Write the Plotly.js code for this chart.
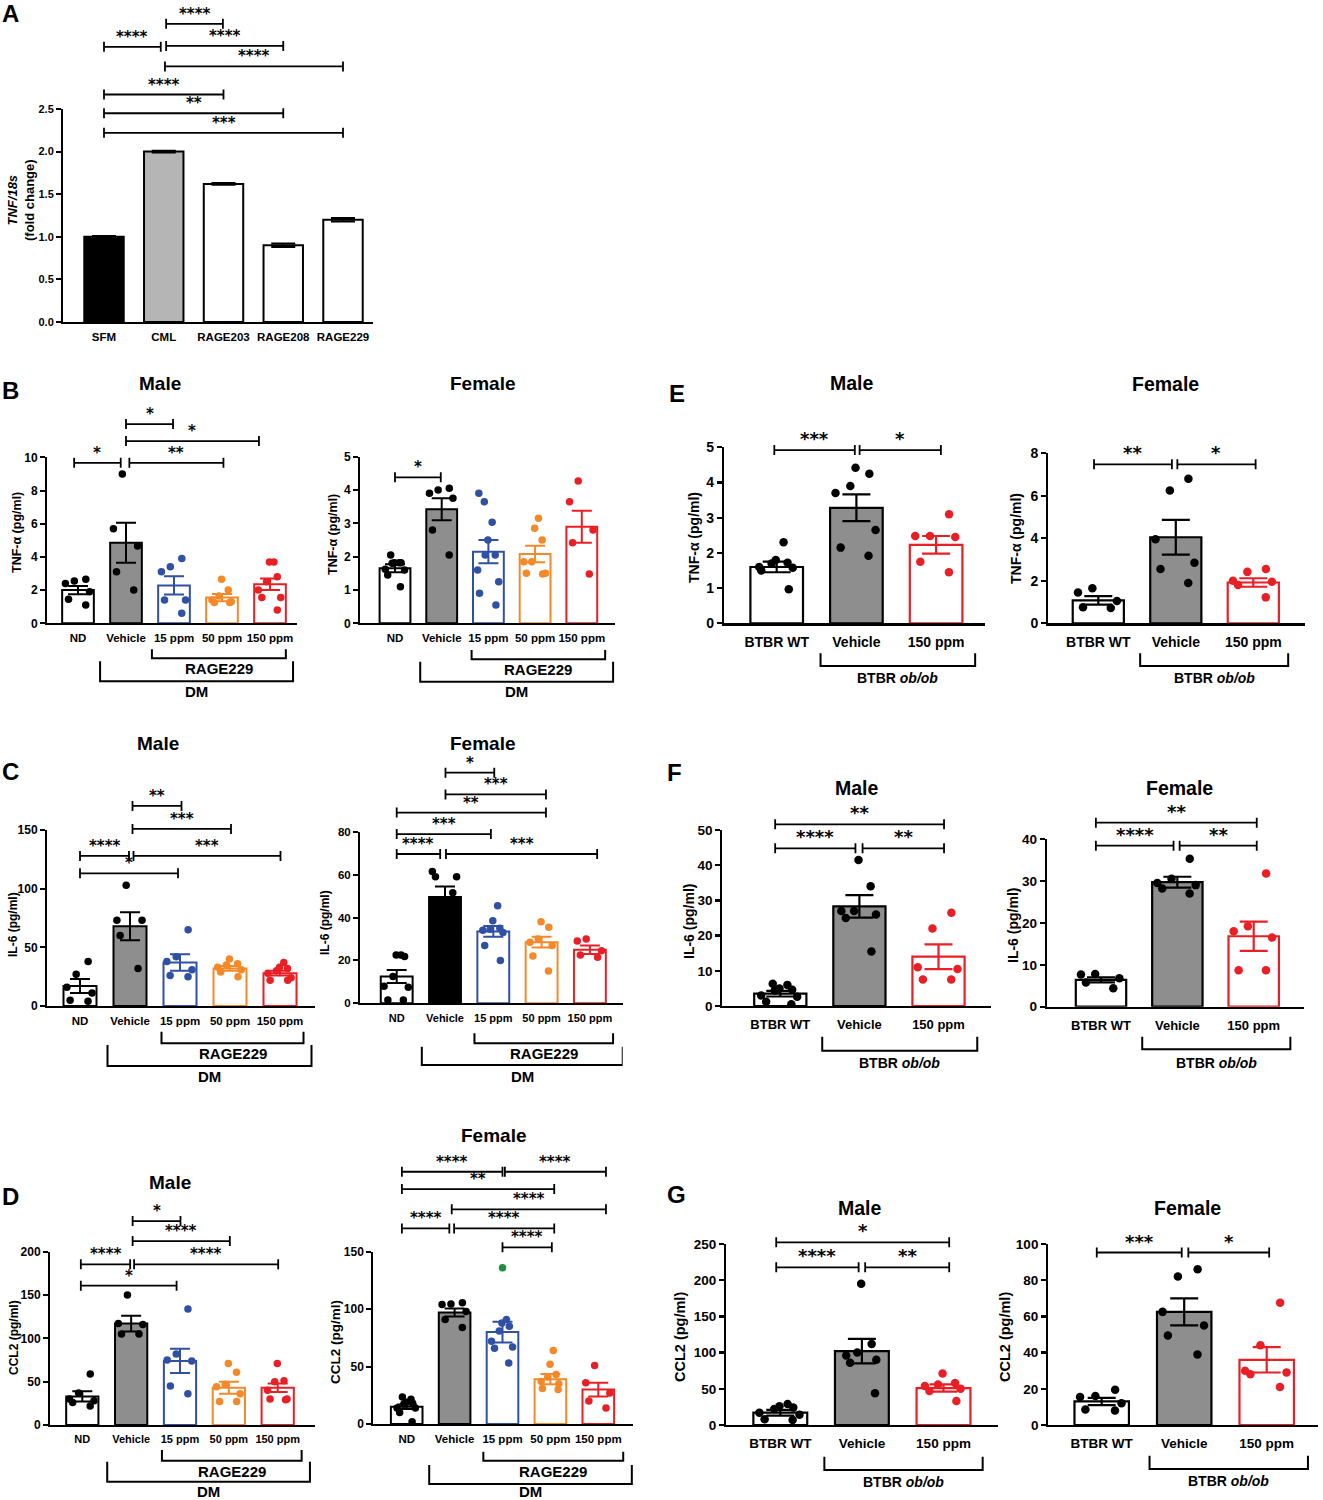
<!DOCTYPE html>
<html><head><meta charset="utf-8">
<script src="https://cdn.plot.ly/plotly-3.0.1.min.js"></script>
<style>body{margin:0;background:#fff}</style>
</head><body><div id="chart" style="width:1323px;height:1500px"></div>
<script>
// ================= DATA =================
const catsA = ['SFM', 'CML', 'RAGE203', 'RAGE208', 'RAGE229'];
const meanA = [1.0, 2.0, 1.62, 0.9, 1.2];
const semA = [0.01, 0.01, 0.01, 0.02, 0.02];
const sigA = ['****', '****', '****', '****', '****', '**', '***'];

const catsDM = ['ND', 'Vehicle', '15 ppm', '50 ppm', '150 ppm'];
const catsOb = ['BTBR WT', 'Vehicle', '150 ppm'];

// B: TNF-a, DM model
const tnfM_mean = [2.0, 4.85, 2.28, 1.55, 2.35];
const tnfM_sem = [0.25, 1.2, 0.55, 0.22, 0.35];
const tnfM_pts = [[2.4, 2.55, 2.65, 1.9, 1.1, 1.45], [9.0, 5.7, 4.65, 3.1, 2.0], [3.9, 3.4, 3.1, 1.4, 1.4, 0.6], [2.65, 2.0, 1.65, 1.4, 1.3, 1.25, 1.25], [3.7, 3.7, 2.5, 2.8, 2.0, 1.55, 1.55, 0.8]];
const tnfM_sig = ['*', '**', '*', '*'];

const tnfF_mean = [1.65, 3.42, 2.15, 2.08, 2.9];
const tnfF_sem = [0.12, 0.33, 0.35, 0.25, 0.48];
const tnfF_pts = [[2.05, 1.82, 1.82, 1.8, 1.82, 1.6, 1.62, 1.45, 1.1], [4.05, 4.0, 3.9, 3.75, 2.8, 2.05], [3.9, 3.65, 3.03, 2.5, 2.05, 2.05, 1.6, 1.25, 0.9, 0.55], [3.15, 2.85, 2.5, 1.85, 1.85, 1.5, 1.5, 1.48], [4.27, 3.65, 2.8, 2.42, 1.48]];
const tnfF_sig = ['*'];

// C: IL-6, DM model
const il6M_mean = [17, 68, 37, 32, 28];
const il6M_sem = [6, 12, 7, 2, 2];
const il6M_pts = [[38, 27, 16, 11, 5, 4], [103, 73, 73, 60, 32], [65, 42, 38, 31, 25, 26], [40, 36, 35, 33, 31, 29, 25], [37, 33, 32, 30, 28, 24, 22, 22]];
const il6M_sig = ['****', '***', '*', '**', '***'];

const il6F_mean = [12.5, 49.5, 33.5, 28.5, 25];
const il6F_sem = [3, 5, 2.5, 2.5, 2];
const il6F_pts = [[22.5, 21.8, 22.5, 12.5, 7.5, 8, 1.5, 1.5], [61.5, 59, 59, 51.5], [45.5, 38.5, 35, 34, 34.5, 33, 27, 20], [38, 35.5, 30, 28.5, 27, 22, 15], [30, 29, 24.5, 21.5, 22.5]];
const il6F_sig = ['****', '***', '***', '**', '***', '*'];

// D: CCL2, DM model
const ccl2M_mean = [33, 117, 74, 43, 43];
const ccl2M_sem = [6, 9, 14, 7, 5];
const ccl2M_pts = [[59, 37, 30, 28, 22, 26], [150, 116, 117, 105, 105], [134, 82, 75, 74, 45, 36], [71, 61, 47, 44, 36, 27, 27], [71, 51, 50, 40, 30, 30, 29]];
const ccl2M_sig = ['****', '****', '*', '*', '****'];

const ccl2F_mean = [15, 97, 80, 39, 30];
const ccl2F_sem = [2, 3.5, 9, 4.5, 6];
const ccl2F_pts = [[23.5, 21.5, 19, 17.5, 14, 14, 10, 18, 2], [104.5, 105.5, 104, 98, 91, 84], [91, 88, 85, 81, 72, 67, 66, 53], [64, 52, 43, 41, 37, 31, 30, 35], [51, 36, 27, 20, 14]];
const ccl2F_outlierCat = [2];
const ccl2F_outlierVal = [136];
const ccl2F_sig = ['****', '****', '**', '****', '****', '****', '****'];

// E-G: BTBR ob/ob model
const obTnfM_mean = [1.6, 3.28, 2.23];
const obTnfM_sem = [0.15, 0.38, 0.25];
const obTnfM_pts = [[2.3, 1.8, 1.7, 1.72, 1.6, 1.58, 1.5, 0.97], [4.42, 4.25, 3.9, 3.7, 2.65, 2.15, 1.92], [3.1, 2.48, 2.48, 2.45, 1.75, 1.45]];
const obTnfM_sig = ['***', '*'];

const obTnfF_mean = [1.08, 4.05, 1.92];
const obTnfF_sem = [0.2, 0.82, 0.2];
const obTnfF_pts = [[1.65, 1.45, 1.05, 0.75, 0.72], [6.8, 6.25, 3.95, 2.85, 2.55, 1.9], [2.55, 2.42, 2.0, 1.95, 1.8, 1.22]];
const obTnfF_sig = ['**', '*'];

const obIl6M_mean = [3.5, 28.3, 14];
const obIl6M_sem = [0.8, 3.2, 3.5];
const obIl6M_pts = [[6, 6.3, 5, 4.6, 4.4, 3, 2.6, 1.2, 0.5], [41.5, 34, 27, 27, 26, 25, 15.5], [26.5, 22, 11, 10.5, 7.5, 7.5]];
const obIl6M_sig = ['****', '**', '**'];

const obIl6F_mean = [6.4, 29.7, 16.8];
const obIl6F_sem = [0.6, 1.3, 3.5];
const obIl6F_pts = [[7.7, 6.8, 7.8, 4.4, 5.8], [35.3, 30.5, 29.5, 29, 28.2, 27], [31.8, 19.2, 18, 16.5, 8.7, 8.7]];
const obIl6F_sig = ['****', '**', '**'];

const obCcl2M_mean = [17, 102, 51];
const obCcl2M_sem = [4, 17, 5];
const obCcl2M_pts = [[29, 26, 24, 22, 17, 14, 8, 7], [195, 112, 100, 96, 90, 86, 44], [71, 58, 56, 54, 50, 47, 33]];
const obCcl2M_sig = ['****', '**', '*'];

const obCcl2F_mean = [13, 62.5, 36];
const obCcl2F_sem = [2, 7.5, 7];
const obCcl2F_pts = [[19.5, 16, 15.5, 12, 8, 8.5], [86, 82, 62.5, 55, 49.5, 39], [67.5, 44, 30, 29, 28, 21]];
const obCcl2F_sig = ['***', '*'];

// ================= STYLE / LAYOUT =================
const PAGE_W = 1323, PAGE_H = 1500;
const FONT = 'Liberation Sans, Arial, sans-serif';
const STAR_FONT = 'DejaVu Sans, sans-serif';
const BLUE = '#3050a4', ORANGE = '#f5892a', RED = '#e91f26', GRAY = '#8e8e8e', LGRAY = '#b5b5b5', GREEN = '#1f8f40';
const W = '#ffffff', K = '#000000';
const DM_FILL = [W, GRAY, W, W, W];
const DM_LINE = [K, K, BLUE, ORANGE, RED];
const OB_FILL = [W, GRAY, W];
const OB_LINE = [K, K, RED];
const OB_TXT = 'BTBR <i>ob/ob</i>';

const base = {lw: 2, ms: 7.5, cap: 10, xfs: 11.5, yfs: 12, xtl: 3, starfs: 15, ytfs: 12.5, titlefs: 19, groupfs: 15};
const panels = [
  {cats: catsA, mean: meanA, sem: semA, pts: null, sig: sigA, fill: [K, LGRAY, W, W, W], line: [K, K, K, K, K],
   box: [63, 373, 109, 322], c0: 104, sp: 59.75, ymax: 2.5, dtick: 0.5, tickfmt: '.1f', cap: 12, yfs: 11,
   ytitle: '<i>TNF/18s</i><br>(fold change)', ytPos: [21, 200], ytfs: 13, letter: 'A', letterPos: [10, 13],
   brackets: [[0, 0.95, 3.23], [1.04, 1.99, 3.50], [1.04, 3.0, 3.24], [1.02, 4.0, 3.0], [0, 2, 2.67], [0, 3, 2.45], [0, 4, 2.22]], groups: []},
  {cats: catsDM, mean: tnfM_mean, sem: tnfM_sem, pts: tnfM_pts, sig: tnfM_sig, fill: DM_FILL, line: DM_LINE,
   box: [47, 297, 457.3, 623.3], c0: 78, sp: 48, ymax: 10, dtick: 2,
   ytitle: 'TNF-α (pg/ml)', ytPos: [17, 533], title: 'Male', titlePos: [160, 383], letter: 'B', letterPos: [10, 391],
   brackets: [[-0.08, 0.89, 9.67], [1.07, 3.03, 9.67], [1.0, 1.98, 12.0], [1.0, 3.77, 10.98]],
   groups: [[1.54, 4.33, 35, 26, 45, 'RAGE229'], [0.46, 4.48, 58, 38, 68, 'DM']]},
  {cats: catsDM, mean: tnfF_mean, sem: tnfF_sem, pts: tnfF_pts, sig: tnfF_sig, fill: DM_FILL, line: DM_LINE,
   box: [360, 615, 456.7, 623.3], c0: 395, sp: 46.7, ymax: 5, dtick: 1,
   ytitle: 'TNF-α (pg/ml)', ytPos: [333, 535], title: 'Female', titlePos: [482, 383],
   brackets: [[0, 0.98, 4.38]],
   groups: [[1.64, 4.5, 36, 26.7, 45.7, 'RAGE229'], [0.54, 4.67, 58.4, 38.4, 68.4, 'DM']]},
  {cats: catsDM, mean: il6M_mean, sem: il6M_sem, pts: il6M_pts, sig: il6M_sig, fill: DM_FILL, line: DM_LINE,
   box: [47, 315, 830, 1006], c0: 80, sp: 50, ymax: 150, dtick: 50, ytfs: 12,
   ytitle: 'IL-6 (pg/ml)', ytPos: [13, 925], title: 'Male', titlePos: [158, 743], letter: 'C', letterPos: [10, 771],
   brackets: [[0, 0.98, 127.9], [1.07, 4.01, 127.9], [0, 1.96, 113.1], [1.05, 2.03, 170.5], [1.05, 3.02, 150.9]],
   groups: [[1.63, 4.47, 37.3, 25.7, 47.3, 'RAGE229'], [0.55, 4.63, 60, 39, 70.7, 'DM']]},
  {cats: catsDM, mean: il6F_mean, sem: il6F_sem, pts: il6F_pts, sig: il6F_sig, fill: [W, K, W, W, W], line: DM_LINE,
   box: [360, 622.7, 831.7, 1003.3], c0: 396.7, sp: 48.3, ymax: 80, dtick: 20, xfs: 11, yfs: 11.5, ytfs: 12,
   ytitle: 'IL-6 (pg/ml)', ytPos: [325, 923], title: 'Female', titlePos: [482, 743],
   brackets: [[0, 0.9, 69.6], [1.02, 4.15, 69.6], [0, 1.95, 78.9], [0, 3.09, 88.9], [1.01, 3.09, 97.4], [1.01, 2.02, 107.5]],
   groups: [[1.61, 4.48, 40, 30, 50, 'RAGE229'], [0.52, 4.68, 61.7, 43.4, 73.4, 'DM']]},
  {cats: catsDM, mean: ccl2M_mean, sem: ccl2M_sem, pts: ccl2M_pts, sig: ccl2M_sig, fill: DM_FILL, line: DM_LINE,
   box: [50, 315, 1251.7, 1425], c0: 82.3, sp: 48.85, ymax: 200, dtick: 50, xfs: 11, ytfs: 12,
   ytitle: 'CCL2 (pg/ml)', ytPos: [14, 1338], title: 'Male', titlePos: [170, 1182], letter: 'D', letterPos: [10, 1196],
   brackets: [[-0.03, 0.98, 185.4], [1.06, 4.01, 185.4], [-0.03, 1.93, 160.8], [1.03, 2.01, 235.4], [1.03, 3.02, 212.3]],
   groups: [[1.63, 4.49, 35.7, 25, 46.7, 'RAGE229'], [0.51, 4.66, 56.7, 36.7, 66.7, 'DM']]},
  {cats: catsDM, mean: ccl2F_mean, sem: ccl2F_sem, pts: ccl2F_pts, sig: ccl2F_sig, fill: DM_FILL, line: DM_LINE,
   box: [373.3, 633.3, 1251.7, 1424], c0: 406.7, sp: 47.9, ymax: 150, dtick: 50, ytfs: 13.5,
   ytitle: 'CCL2 (pg/ml)', ytPos: [335, 1342], title: 'Female', titlePos: [493, 1135],
   brackets: [[-0.1, 2.0, 219.6], [2.05, 4.16, 219.6], [-0.1, 3.08, 204.5], [0.94, 4.16, 186.9], [-0.1, 0.89, 170.3], [0.99, 3.08, 170.3], [2.0, 3.03, 153.8]],
   groups: [[1.6, 4.52, 36.7, 27.7, 47.7, 'RAGE229'], [0.47, 4.7, 60, 41, 67.7, 'DM']],
   outlier: true},
  {cats: catsOb, mean: obTnfM_mean, sem: obTnfM_sem, pts: obTnfM_pts, sig: obTnfM_sig, fill: OB_FILL, line: OB_LINE,
   box: [724, 985, 447.3, 623.3], c0: 776.7, sp: 79.7, ymax: 5, dtick: 1, ob: true,
   ytitle: 'TNF-α (pg/ml)', ytPos: [694, 538], title: 'Male', titlePos: [852, 383], letter: 'E', letterPos: [677, 394],
   brackets: [[-0.03, 0.98, 4.92], [1.04, 2.06, 4.92]],
   groups: [[0.55, 2.49, 42.7, 30, 55, OB_TXT]]},
  {cats: catsOb, mean: obTnfF_mean, sem: obTnfF_sem, pts: obTnfF_pts, sig: obTnfF_sig, fill: OB_FILL, line: OB_LINE,
   box: [1048.3, 1305, 453.3, 623.3], c0: 1098.3, sp: 77.5, ymax: 8, dtick: 2, ob: true,
   ytitle: 'TNF-α (pg/ml)', ytPos: [1016, 539], title: 'Female', titlePos: [1165, 384],
   brackets: [[-0.055, 0.95, 7.48], [1.02, 2.03, 7.48]],
   groups: [[0.54, 2.45, 42.7, 30, 54.7, OB_TXT]]},
  {cats: catsOb, mean: obIl6M_mean, sem: obIl6M_sem, pts: obIl6M_pts, sig: obIl6M_sig, fill: OB_FILL, line: OB_LINE,
   box: [722.4, 991, 830, 1006], c0: 780.3, sp: 79.1, ymax: 50, dtick: 10, ob: true, xfs: 13, yfs: 13.5,
   ytitle: 'IL-6 (pg/ml)', ytPos: [689, 922], title: 'Male', titlePos: [857, 788], letter: 'F', letterPos: [674, 772],
   brackets: [[-0.065, 0.95, 44.8], [1.04, 2.07, 44.8], [-0.065, 2.07, 51.6]],
   groups: [[0.53, 2.49, 44.7, 30.7, 56.7, OB_TXT]]},
  {cats: catsOb, mean: obIl6F_mean, sem: obIl6F_sem, pts: obIl6F_pts, sig: obIl6F_sig, fill: OB_FILL, line: OB_LINE,
   box: [1047, 1303.5, 839, 1006.7], c0: 1101, sp: 76.35, ymax: 40, dtick: 10, ob: true, xfs: 13, yfs: 13.5,
   ytitle: 'IL-6 (pg/ml)', ytPos: [1013, 925], title: 'Female', titlePos: [1179, 788],
   brackets: [[-0.067, 0.95, 38.4], [1.03, 2.04, 38.4], [-0.067, 2.04, 43.9]],
   groups: [[0.54, 2.48, 42.6, 30, 56, OB_TXT]]},
  {cats: catsOb, mean: obCcl2M_mean, sem: obCcl2M_sem, pts: obCcl2M_pts, sig: obCcl2M_sig, fill: OB_FILL, line: OB_LINE,
   box: [726.2, 997.6, 1244, 1425], c0: 780.3, sp: 81.6, ymax: 250, dtick: 50, ob: true, xfs: 13.5, yfs: 13.5, ytfs: 14.5,
   ytitle: 'CCL2 (pg/ml)', ytPos: [680, 1337], title: 'Male', titlePos: [860, 1208], letter: 'G', letterPos: [676, 1194],
   brackets: [[-0.05, 0.96, 217.8], [1.04, 2.07, 217.8], [-0.05, 2.07, 252.3]],
   groups: [[0.54, 2.48, 45, 31.7, 56.7, OB_TXT]]},
  {cats: catsOb, mean: obCcl2F_mean, sem: obCcl2F_sem, pts: obCcl2F_pts, sig: obCcl2F_sig, fill: OB_FILL, line: OB_LINE,
   box: [1048.3, 1318, 1244, 1425], c0: 1101.7, sp: 82.5, ymax: 100, dtick: 20, ob: true, xfs: 13.5, yfs: 13.5, ytfs: 14.5,
   ytitle: 'CCL2 (pg/ml)', ytPos: [1005, 1337], title: 'Female', titlePos: [1187, 1208],
   brackets: [[-0.06, 0.97, 95.3], [1.05, 2.03, 95.3]],
   groups: [[0.58, 2.5, 44, 30.7, 55.7, OB_TXT]]}
];

const obDefaults = {lw: 2.2, ms: 8.5, cap: 14, xfs: 14, yfs: 14, xtl: 5, starfs: 18, ytfs: 14, titlefs: 19.5, groupfs: 14};

const traces = [];
const layout = {
  width: PAGE_W, height: PAGE_H, margin: {l: 0, r: 0, t: 0, b: 0}, showlegend: false,
  barmode: 'overlay', boxmode: 'overlay', paper_bgcolor: '#ffffff', plot_bgcolor: 'rgba(0,0,0,0)',
  font: {family: FONT, color: '#000'}, shapes: [], annotations: []
};

function paperAnn(text, px, py, size, extra) {
  return Object.assign({xref: 'paper', yref: 'paper', x: px / PAGE_W, y: 1 - py / PAGE_H, text: text,
    showarrow: false, xanchor: 'center', yanchor: 'middle',
    font: {family: FONT, size: size, weight: 'bold', color: '#000'}}, extra || {});
}

panels.forEach((p0, k) => {
  const p = Object.assign({}, base, p0.ob ? obDefaults : {}, p0);
  const n = k === 0 ? '' : String(k + 1);
  const xid = 'x' + n, yid = 'y' + n;
  const [L, R, T, B] = p.box;
  const tf = (s) => ({family: FONT, size: s, weight: 'bold', color: '#000'});

  layout['xaxis' + n] = {
    domain: [L / PAGE_W, R / PAGE_W], anchor: yid, type: 'linear',
    range: [(L - p.c0) / p.sp, (R - p.c0) / p.sp],
    tickmode: 'array', tickvals: p.cats.map((c, i) => i), ticktext: p.cats,
    ticks: 'outside', ticklen: p.xtl, tickcolor: 'rgba(0,0,0,0)',
    showline: true, linewidth: p.lw, linecolor: '#000', showgrid: false, zeroline: false,
    tickfont: tf(p.xfs), fixedrange: true
  };
  layout['yaxis' + n] = {
    domain: [1 - B / PAGE_H, 1 - T / PAGE_H], anchor: xid, type: 'linear',
    range: [0, p.ymax], tick0: 0, dtick: p.dtick, tickformat: p.tickfmt || '',
    ticks: 'outside', ticklen: 5, tickwidth: p.lw, tickcolor: '#000',
    showline: true, linewidth: p.lw, linecolor: '#000', showgrid: false, zeroline: false,
    tickfont: tf(p.yfs), fixedrange: true
  };

  p.cats.forEach((c, i) => {
    traces.push({
      type: 'bar', x: [i], y: [p.mean[i]], width: 0.66, xaxis: xid, yaxis: yid,
      marker: {color: p.fill[i], line: {color: p.line[i], width: p.lw}},
      error_y: {type: 'data', array: [p.sem[i]], visible: true, color: p.line[i], thickness: p.lw, width: p.cap},
      hoverinfo: 'skip'
    });
    if (p.pts) {
      traces.push({
        type: 'box', x: p.pts[i].map(() => i), y: p.pts[i], xaxis: xid, yaxis: yid,
        boxpoints: 'all', jitter: 1, pointpos: 0, width: 0.62,
        fillcolor: 'rgba(0,0,0,0)', line: {width: 0, color: 'rgba(0,0,0,0)'}, whiskerwidth: 0,
        marker: {color: p.line[i], size: p.ms, line: {width: 0}}, hoverinfo: 'skip'
      });
    }
  });
  if (p.outlier) {
    traces.push({type: 'scatter', mode: 'markers', x: ccl2F_outlierCat, y: ccl2F_outlierVal, xaxis: xid, yaxis: yid,
      marker: {color: GREEN, size: p.ms}, cliponaxis: false, hoverinfo: 'skip'});
  }

  // significance brackets
  p.brackets.forEach((b, j) => {
    const [x0, x1, lev] = b;
    const f = lev / p.ymax;
    layout.shapes.push({type: 'path', xref: xid, yref: yid + ' domain', ysizemode: 'pixel', yanchor: f,
      path: `M${x0},-5 L${x0},5 M${x0},0 L${x1},0 M${x1},-5 L${x1},5`,
      line: {color: '#000', width: 1.8}});
    layout.annotations.push({xref: xid, yref: yid + ' domain', x: (x0 + x1) / 2, y: f, text: p.sig[j],
      showarrow: false, xanchor: 'center', yanchor: 'bottom', yshift: -1,
      font: {family: STAR_FONT, size: p.starfs, weight: 'bold', color: '#000'}});
  });

  // group brackets below the x axis
  p.groups.forEach((g) => {
    const [x0, x1, lineOff, topOff, textOff, text] = g;
    layout.shapes.push({type: 'path', xref: xid, yref: yid + ' domain', ysizemode: 'pixel', yanchor: 0,
      path: `M${x0},${-topOff} L${x0},${-lineOff} L${x1},${-lineOff} L${x1},${-topOff}`,
      line: {color: '#000', width: 2}});
    layout.annotations.push({xref: xid, yref: yid + ' domain', x: (x0 + x1) / 2, y: 0, yshift: -textOff,
      text: text, showarrow: false, xanchor: 'center', yanchor: 'middle',
      font: {family: FONT, size: p.groupfs, weight: 'bold', color: '#000'}});
  });

  layout.annotations.push(paperAnn(p.ytitle, p.ytPos[0], p.ytPos[1], p.ytfs, {textangle: -90}));
  if (p.title) layout.annotations.push(paperAnn(p.title, p.titlePos[0], p.titlePos[1], p.titlefs));
  if (p.letter) layout.annotations.push(paperAnn(p.letter, p.letterPos[0], p.letterPos[1], 24));
});

Plotly.newPlot('chart', traces, layout, {staticPlot: true, displayModeBar: false});
</script>
</body></html>
